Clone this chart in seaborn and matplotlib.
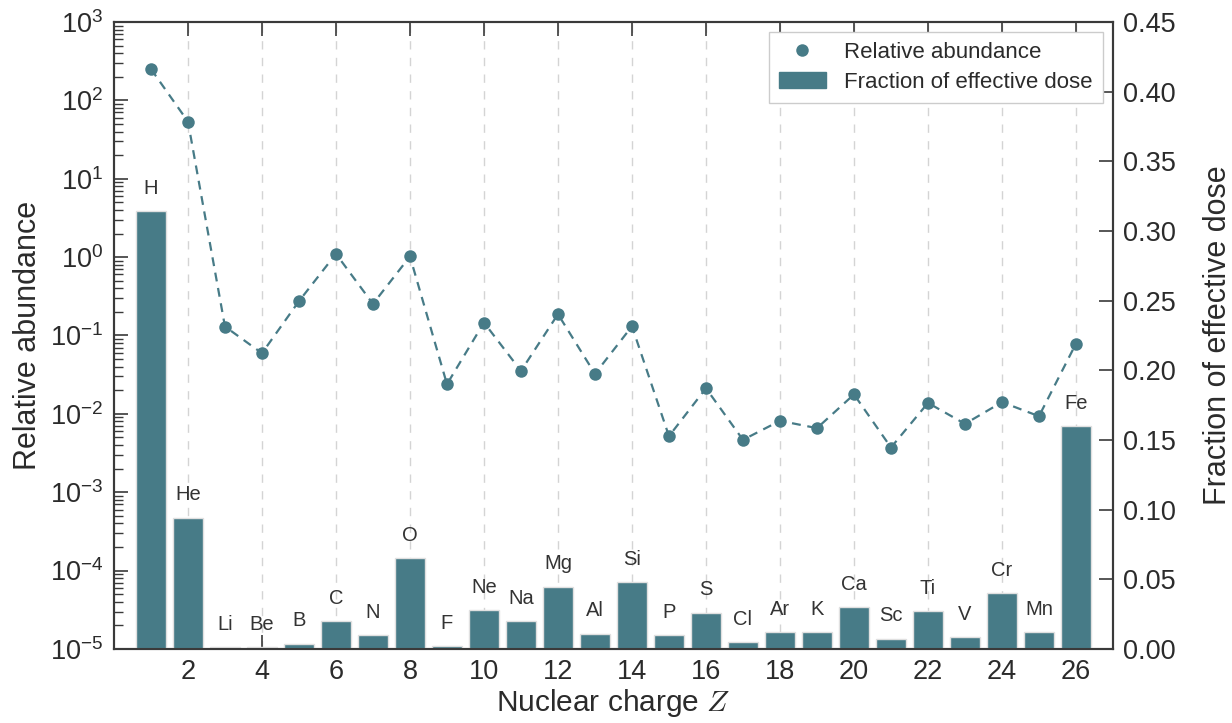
import numpy as np
import pandas as pd
import matplotlib
matplotlib.use("Agg")
import matplotlib.pyplot as plt
import seaborn as sns
from matplotlib.lines import Line2D
from matplotlib.patches import Patch

# ---------------- data ----------------
Z = list(range(1, 27))
elements = ["H", "He", "Li", "Be", "B", "C", "N", "O", "F", "Ne", "Na", "Mg", "Al",
            "Si", "P", "S", "Cl", "Ar", "K", "Ca", "Sc", "Ti", "V", "Cr", "Mn", "Fe"]
relative_abundance = [251, 53.6, 0.130, 0.0594, 0.274, 1.10, 0.253, 1.02, 0.0239, 0.146,
                      0.0353, 0.187, 0.0324, 0.131, 0.00519, 0.0212, 0.00466, 0.00815,
                      0.00657, 0.0177, 0.00372, 0.0138, 0.00745, 0.0141, 0.00933, 0.0788]
dose_fraction = [0.314, 0.0943, 0.0012, 0.0012, 0.0038, 0.0199, 0.0100, 0.0651, 0.0022,
                 0.0280, 0.0199, 0.0447, 0.0110, 0.0481, 0.0100, 0.0260, 0.0050, 0.0120,
                 0.0120, 0.0300, 0.0074, 0.0270, 0.0084, 0.0400, 0.0120, 0.1600]
x_ticks = list(range(2, 27, 2))
right_ticks = [0.00, 0.05, 0.10, 0.15, 0.20, 0.25, 0.30, 0.35, 0.40, 0.45]

df = pd.DataFrame({"Z": Z, "element": elements,
                   "abundance": relative_abundance, "dose": dose_fraction})

# ---------------- style ----------------
sns.set_style("ticks")
plt.rcParams["font.family"] = ["Liberation Sans", "DejaVu Sans"]
plt.rcParams["mathtext.fontset"] = "cm"
plt.rcParams["mathtext.default"] = "regular"
plt.rcParams["axes.unicode_minus"] = False

teal = "#477b87"
spine_col = "#3a3a3a"
text_col = "#2b2b2b"

fig = plt.figure(figsize=(12.32, 7.23), dpi=100)
ax = fig.add_axes([0.0925, 0.1024, 0.8109, 0.8672])
ax2 = ax.twinx()

# points + dashed line on log axis
sns.lineplot(data=df, x="Z", y="abundance", ax=ax, color=teal, linestyle=(0, (4, 3)),
             linewidth=1.6, marker="o", markersize=9, markeredgewidth=0, legend=False)
ax.set_yscale("log")
ax.set_ylim(1e-5, 1e3)
ax.set_xlim(0, 27)

# bars on linear right axis
sns.barplot(data=df, x="Z", y="dose", ax=ax2, native_scale=True, width=0.8,
            color=teal, saturation=1, edgecolor="#e0e0e0", linewidth=1.0)
ax2.set_ylim(0, 0.45)
ax2.set_xlim(0, 27)
ax2.set_xlabel("")
ax2.set_yticks(right_ticks)
ax2.set_yticklabels([f"{v:.2f}" for v in right_ticks])

for z, sym, val in zip(Z, elements, dose_fraction):
    ax2.annotate(sym, (z, val), xytext=(0, 12.5), textcoords="offset points",
                 ha="center", va="baseline", fontsize=14.5, color="#333333")

# axes decoration
ax.set_xticks(x_ticks)
ax.set_xticklabels([str(t) for t in x_ticks])
ax.xaxis.grid(True, color="#d4d4d4", linestyle=(0, (6, 6)), linewidth=1.0)
ax.yaxis.grid(False)
ax2.grid(False)

ax.tick_params(axis="both", which="major", direction="in", length=10, width=1.2,
               color=spine_col, labelsize=19.5, pad=7.5, labelcolor=text_col)
ax.tick_params(axis="y", which="minor", direction="in", length=6.5, width=1.0,
               color=spine_col)
ax.tick_params(axis="x", top=True, which="major")
ax.tick_params(axis="x", which="minor", bottom=False, top=False)
ax2.tick_params(axis="y", which="major", direction="in", length=10, width=1.2,
                color=spine_col, labelsize=19.5, pad=7.5, labelcolor=text_col)
ax2.tick_params(axis="y", which="minor", right=False, left=False)

for a in (ax, ax2):
    for s in a.spines.values():
        s.set_visible(True)
        s.set_color(spine_col)
        s.set_linewidth(1.5)

ax.set_xlabel(r"Nuclear charge $\mathit{Z}$", fontsize=21.5, color=text_col, labelpad=1)
ax.set_ylabel("Relative abundance", fontsize=22, color=text_col, labelpad=5)
ax2.set_ylabel("Fraction of effective dose", fontsize=22, color=text_col, labelpad=19)

handles = [Line2D([], [], linestyle="none", marker="o", markersize=9,
                  markeredgewidth=0, color=teal),
           Patch(facecolor=teal, edgecolor=teal)]
leg = ax2.legend(handles, ["Relative abundance", "Fraction of effective dose"],
                 loc="upper right", fontsize=16, frameon=True, fancybox=False,
                 framealpha=1, edgecolor="#cccccc", borderaxespad=0.45,
                 handlelength=2.1, handletextpad=0.85, borderpad=0.45, labelspacing=0.4)
for t in leg.get_texts():
    t.set_color(text_col)

fig.savefig("out.png", dpi=100)
